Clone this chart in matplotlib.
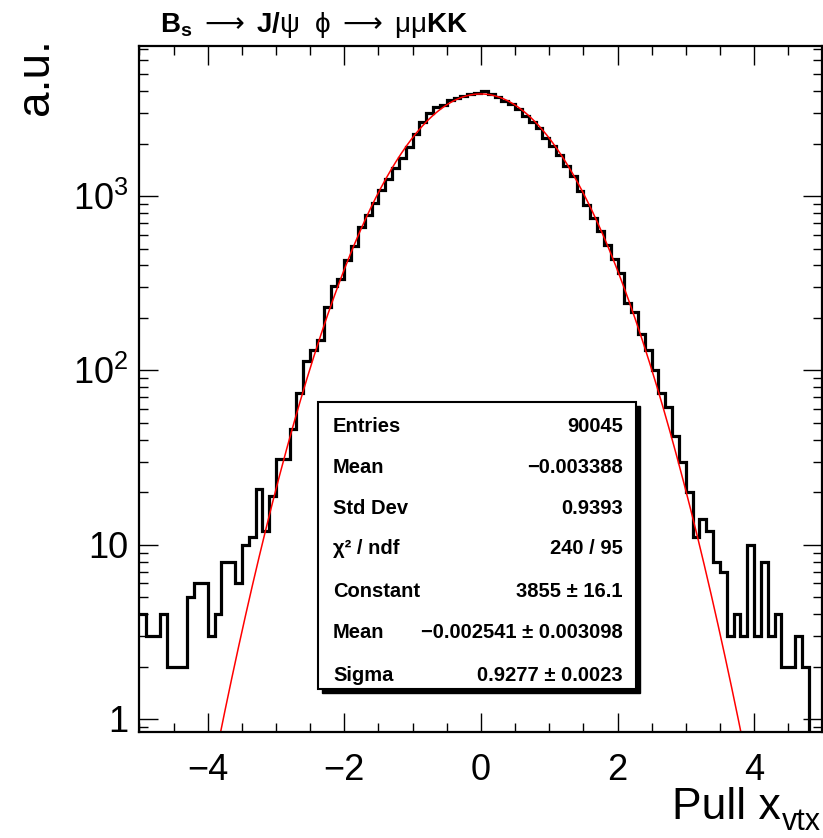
import numpy as np
import matplotlib
matplotlib.use("Agg")
import matplotlib.pyplot as plt
from matplotlib.patches import Rectangle
from matplotlib.ticker import FixedLocator, FixedFormatter, NullFormatter

plt.rcParams['font.family'] = ['Liberation Sans', 'DejaVu Sans']
plt.rcParams['mathtext.fontset'] = 'custom'
plt.rcParams['mathtext.rm'] = 'Liberation Sans'
plt.rcParams['mathtext.bf'] = 'Liberation Sans:bold'
plt.rcParams['mathtext.it'] = 'Liberation Sans:italic'
plt.rcParams['mathtext.sf'] = 'DejaVu Sans'

# histogramme: 100 bins de -5 a 5
bin_edges = np.linspace(-5, 5, 101)
counts = [4, 3, 3, 4, 2, 2, 2, 5, 6, 6,
          3, 4, 8, 8, 6, 10, 11, 21, 12, 19,
          31, 31, 46, 74, 113, 131, 149, 230, 305, 336,
          431, 520, 665, 774, 916, 1084, 1249, 1448, 1655, 1909,
          2280, 2644, 2986, 3259, 3332, 3560, 3640, 3767, 3853, 3886,
          4024, 3843, 3680, 3525, 3354, 3141, 2896, 2660, 2465, 2168,
          1927, 1720, 1490, 1300, 1072, 887, 753, 627, 523, 435,
          361, 243, 215, 162, 131, 100, 74, 62, 42, 30,
          20, 11, 14, 12, 8, 7, 3, 4, 3, 10,
          3, 8, 3, 4, 2, 2, 3, 2, 0, 0]

# parametres du fit gaussien (boite de stats)
fit_const = 3855
fit_mean = -0.002541
fit_sigma = 0.9277

stat_names = ["Entries", "Mean", "Std Dev", "\u03c7\u00b2 / ndf",
              "Constant", "Mean", "Sigma"]
stat_values = ["90045", "\u22120.003388", "0.9393", "240 / 95",
               "3855 \u00b1 16.1", "\u22120.002541 \u00b1 0.003098",
               "0.9277 \u00b1 0.0023"]

W, H = 823, 838
fig = plt.figure(figsize=(W / 100, H / 100), dpi=100)
ax = fig.add_axes([139.4 / W, 1 - 731.7 / H, 683 / W, 685.7 / H])

vals = np.array(counts, dtype=float)
vals_draw = np.where(vals > 0, vals, 1e-3)
ax.stairs(vals_draw, bin_edges, color='black', lw=2.3, baseline=None)

xf = np.linspace(-5, 5, 400)
yf = fit_const * np.exp(-0.5 * ((xf - fit_mean) / fit_sigma) ** 2)
ax.plot(xf, yf, color='red', lw=1.1)

ax.set_yscale('log')
ax.set_xlim(-5, 5)
ax.set_ylim(0.8455, 7262)

ax.xaxis.set_major_locator(FixedLocator([-4, -2, 0, 2, 4]))
ax.xaxis.set_minor_locator(FixedLocator(np.arange(-5, 5.01, 0.5)))
ax.xaxis.set_major_formatter(FixedFormatter(['\u22124', '\u22122', '0', '2', '4']))

ax.yaxis.set_major_locator(FixedLocator([1, 10, 100, 1000]))
ax.yaxis.set_major_formatter(FixedFormatter(['1', '10', '$10^{2}$', '$10^{3}$']))
minors = [m * 10 ** d for d in range(-1, 4) for m in range(2, 10)]
ax.yaxis.set_minor_locator(FixedLocator(minors))
ax.yaxis.set_minor_formatter(NullFormatter())

ax.tick_params(which='both', direction='in', top=True, right=True,
               width=1, labelsize=26)
ax.tick_params(which='major', length=14)
ax.tick_params(which='minor', length=6.5)
ax.tick_params(axis='x', pad=15)
ax.tick_params(axis='y', pad=8)
for s in ax.spines.values():
    s.set_linewidth(1.6)

# titre
fig.text(160 / W, 1 - 32 / H,
         r'$\mathbf{B_{s}}$ $\mathsf{\longrightarrow}$ $\mathbf{J/}\mathrm{\psi}$  $\mathrm{\phi}$ $\mathsf{\longrightarrow}$ $\mathrm{\mu\mu}\mathbf{KK}$',
         fontsize=20, ha='left', va='baseline')

# titre de l'axe x: "Pull x" + indice "vtx" plus bas
t_sub = fig.text(821 / W, 1 - 830 / H, 'vtx', fontsize=22,
                 ha='right', va='baseline')
fig.canvas.draw()
bb = t_sub.get_window_extent()
fig.text((bb.x0 - 1) / W, 1 - 819 / H, 'Pull x', fontsize=32,
         ha='right', va='baseline')

fig.text(58 / W, 1 - 38 / H, 'a.u.', fontsize=33, rotation=90,
         ha='right', va='top')

# boite de stats
bx0, by0, bx1, by1 = 318, 402, 636, 689
shadow = Rectangle(((bx0 + 4) / W, 1 - (by1 + 4) / H), (bx1 - bx0) / W,
                   (by1 - by0) / H, transform=fig.transFigure,
                   facecolor='black', edgecolor='black', zorder=5)
box = Rectangle((bx0 / W, 1 - by1 / H), (bx1 - bx0) / W, (by1 - by0) / H,
                transform=fig.transFigure, facecolor='white',
                edgecolor='black', lw=1.5, zorder=6)
fig.add_artist(shadow)
fig.add_artist(box)

rows_y = [426, 467, 509, 549, 591, 633, 675]
for name, val, ry in zip(stat_names, stat_values, rows_y):
    fig.text(333 / W, 1 - ry / H, name, fontsize=14.5, fontweight='bold',
             ha='left', va='center', zorder=7)
    fig.text(623 / W, 1 - ry / H, val, fontsize=14.5, fontweight='bold',
             ha='right', va='center', zorder=7)

fig.savefig('out.png', dpi=100)
